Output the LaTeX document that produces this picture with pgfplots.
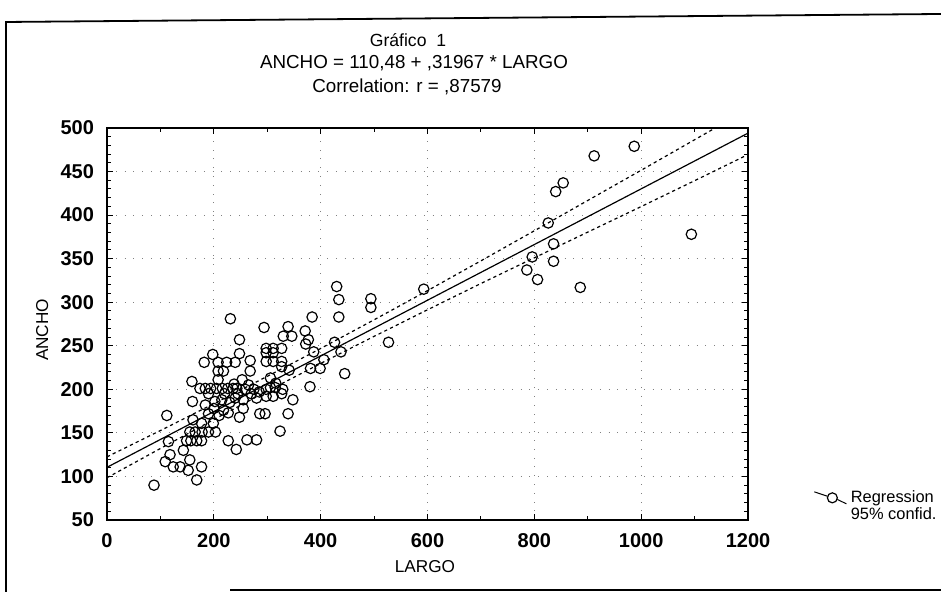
\documentclass[border=0pt]{standalone}
\usepackage{fontspec}
\setmainfont{Liberation Sans}
\usepackage{pgfplots}
\pgfplotsset{compat=1.18}
\pgfplotstableread{
x y
987 479
912 468
854 437
840 427
826 391
1094 378
836 367
796 352
836 347
786 337
806 326
886 317
593 315
430 318
434 303
434 283
494 304
494 294
527 254
384 283
231 281
294 271
339 272
330 261
346 261
371 267
377 257
372 252
248 257
426 254
298 247
311 247
327 247
298 242
311 242
438 243
387 243
198 240
248 241
182 231
208 231
224 231
240 231
268 233
298 232
311 232
327 232
327 226
341 222
381 224
399 224
406 234
445 218
208 221
218 221
268 221
159 209
208 211
253 211
238 206
306 213
316 207
380 203
174 201
184 201
194 201
205 201
216 201
226 201
236 201
243 201
259 200
275 200
298 200
306 202
315 202
329 200
298 192
311 192
327 195
270 195
285 197
348 188
339 172
286 172
296 172
324 152
160 186
184 182
202 186
218 176
227 173
248 168
255 178
255 188
240 190
230 185
161 165
177 161
199 161
190 172
210 170
200 178
215 188
245 195
265 205
280 190
220 195
190 195
155 151
165 151
178 151
190 151
203 151
149 141
157 141
168 141
177 141
227 141
262 142
280 142
242 131
143 130
115 140
112 170
118 125
109 117
124 111
137 111
155 119
152 107
177 111
168 96
88 90
}\datatable
\begin{document}
\begin{tikzpicture}
\path[use as bounding box] (0pt,0pt) rectangle (470.5pt,296pt);
\draw[line width=0.9pt] (3pt,0pt) -- (3pt,285pt) -- (470.5pt,289pt);
\draw[line width=0.9pt] (115pt,1pt) -- (470.5pt,1pt);
\node[font=\fontsize{8.8}{10}\selectfont] at (204pt,276pt) {Gráfico\ \ 1};
\node[font=\fontsize{9.4}{11}\selectfont] at (207pt,264.5pt) {ANCHO = 110,48 + ,31967 * LARGO};
\node[font=\fontsize{9.4}{11}\selectfont] at (203.5pt,252.5pt) {Correlation: r = ,87579};
\begin{axis}[
  at={(53.5pt,36pt)}, anchor=south west,
  scale only axis, width=320.5pt, height=196pt,
  xmin=0, xmax=1200, ymin=50, ymax=500,
  xtick={0,200,...,1200}, ytick={50,100,...,500},
  minor x tick num=1, minor y tick num=4,
  tick align=inside, xtick pos=both, ytick pos=both,
  major tick length=3pt, minor tick length=1.8pt,
  every tick/.style={black, line width=0.5pt},
  axis line style={line width=0.9pt},
  grid=major,
  major grid style={loosely dotted, gray, line width=0.5pt},
  tick label style={font=\fontsize{10}{12}\selectfont\bfseries},
  /pgf/number format/assume math mode=true,
  /pgf/number format/set thousands separator={},
  xticklabel style={yshift=-3pt},
  yticklabel style={xshift=-3pt},
  xlabel={LARGO}, ylabel={ANCHO},
  label style={font=\fontsize{8.6}{10}\selectfont},
  xlabel style={at={(axis description cs:0.496,-0.12)}, anchor=center},
  ylabel style={at={(axis description cs:-0.101,0.485)}, anchor=center},
  legend style={at={(axis description cs:1.099,0.035)}, anchor=west, draw=none, fill=none,
    font=\fontsize{8.2}{10}\selectfont, row sep=-3pt, inner sep=1pt},
  legend cell align=left,
]
\addplot[only marks, mark=o, mark size=2.6pt, black, line width=0.6pt, forget plot] table[x=x,y=y] {\datatable};
\addplot[black, line width=0.6pt, forget plot] coordinates {(0,110.48) (1200,494.08)};
\addplot[black, line width=0.6pt, dash pattern=on 1.6pt off 1.6pt, forget plot] coordinates {
(0,122.5) (100,152.7) (200,183.5) (300,214.9) (400,246.9) (500,279.8) (600,313.3) (700,347.5) (800,382.0) (900,416.8) (1000,451.5) (1100,486.5) (1200,521.5)};
\addplot[black, line width=0.6pt, dash pattern=on 1.6pt off 1.6pt, forget plot] coordinates {
(0,98.5) (100,132.1) (200,165.3) (300,197.9) (400,229.7) (500,260.8) (600,291.3) (700,321.5) (800,351.0) (900,380.5) (1000,409.8) (1100,439.5) (1200,469.5)};
\addlegendimage{legend image code/.code={
  \draw[black, line width=0.5pt] (-2pt,3pt) -- (4.5pt,0.8pt);
  \draw[black, line width=0.5pt] (9.5pt,-0.8pt) -- (14pt,-3pt);
  \draw[black, line width=0.6pt] (7pt,0pt) circle (2.5pt);}}
\addlegendentry{Regression}
\addlegendimage{legend image code/.code={}}
\addlegendentry{95\% confid.}
\end{axis}
\end{tikzpicture}
\end{document}
